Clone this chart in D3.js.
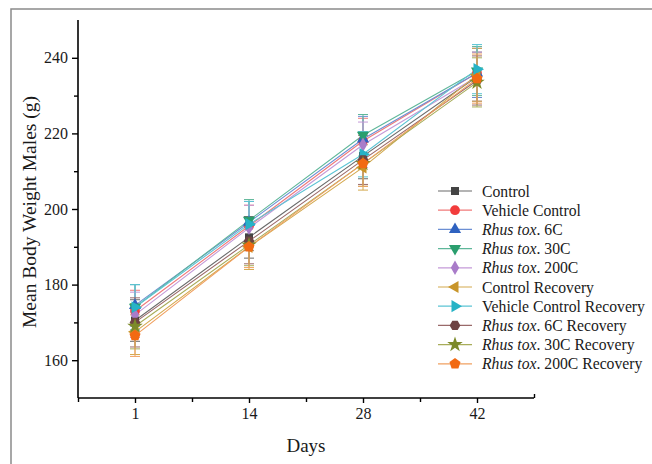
<!DOCTYPE html>
<html>
<head>
<meta charset="utf-8">
<script src="https://cdn.jsdelivr.net/npm/d3@7"></script>
<style>
  body { margin: 0; background: #fff; }
  text { font-family: "Liberation Serif", "Times New Roman", serif; fill: #1a1a1a; }
</style>
</head>
<body>
<div id="chart"></div>
<script>
const width = 652;
const height = 464;

// data
const days = ["1", "14", "28", "42"];
const seriesNames = [
  "Control", "Vehicle Control", "Rhus tox. 6C", "Rhus tox. 30C", "Rhus tox. 200C",
  "Control Recovery", "Vehicle Control Recovery", "Rhus tox. 6C Recovery",
  "Rhus tox. 30C Recovery", "Rhus tox. 200C Recovery"
];
const control = [170.5, 192.5, 214, 235];
const vehicleControl = [173, 195.5, 218, 236];
const rhus6C = [174.5, 196.5, 218.5, 236];
const rhus30C = [174, 197, 219.5, 236.5];
const rhus200C = [172, 195, 217, 235];
const controlRecovery = [167.5, 190, 211, 235.5];
const vehicleRecovery = [174, 196, 214.5, 237];
const rhus6CRecovery = [170, 191.5, 213, 234];
const rhus30CRecovery = [169, 190.5, 212, 233.5];
const rhus200CRecovery = [166.5, 190, 212, 234.5];
const errors = [
  [5.5, 5.5, 6, 6.5],
  [5.5, 5.5, 6, 6.5],
  [5.5, 5.5, 6, 6.5],
  [6, 5.5, 5.5, 6.5],
  [6, 6, 6, 6.5],
  [6, 6, 6, 7],
  [6, 6, 6, 6.5],
  [6.5, 6, 6.5, 6.5],
  [6, 5.5, 6, 6.5],
  [5.5, 5.5, 6, 6.5]
];
const yTicks = [160, 180, 200, 220, 240];

const allValues = [control, vehicleControl, rhus6C, rhus30C, rhus200C,
  controlRecovery, vehicleRecovery, rhus6CRecovery, rhus30CRecovery, rhus200CRecovery];

const lineColors = ["#6b6b6b", "#f07a7a", "#6c8fd4", "#5fb79a", "#c49ad8",
  "#d4a94f", "#5cc4d4", "#9a6a6a", "#a8ad5a", "#f0a060"];
const markColors = ["#444444", "#f23c3c", "#2f62c0", "#2a9e6e", "#a97cc9",
  "#c8952a", "#27b3c6", "#6e4343", "#7c8a2a", "#f26a12"];

// extra symbol shapes
const polygon = (n, rot) => ({
  draw(ctx, size) {
    const r = Math.sqrt(size / (n * 0.5 * Math.sin(2 * Math.PI / n)));
    for (let i = 0; i < n; i++) {
      const a = rot + i * 2 * Math.PI / n;
      const x = r * Math.sin(a), y = -r * Math.cos(a);
      if (i === 0) ctx.moveTo(x, y); else ctx.lineTo(x, y);
    }
    ctx.closePath();
  }
});
const symbols = [
  [d3.symbolSquare, 0], [d3.symbolCircle, 0], [d3.symbolTriangle, 0],
  [d3.symbolTriangle, 180], [d3.symbolDiamond, 0], [d3.symbolTriangle, -90],
  [d3.symbolTriangle, 90], [polygon(6, Math.PI / 6), 0], [d3.symbolStar, 0],
  [polygon(5, 0), 0]
];
const symSize = [64, 75, 64, 64, 60, 64, 64, 75, 75, 80];

const svg = d3.select("#chart").append("svg")
  .attr("width", width)
  .attr("height", height);

// outer frame
svg.append("rect")
  .attr("x", 11).attr("y", 9)
  .attr("width", 700).attr("height", 500)
  .attr("fill", "none").attr("stroke", "#8a8a8a").attr("stroke-width", 1.5);

const plotLeft = 78, plotRight = 534, plotTop = 20, plotBottom = 398;

const xScale = d3.scaleLinear().domain([0, 4]).range([plotLeft, plotRight]);
const yScale = d3.scaleLinear().domain([150, 250]).range([plotBottom, plotTop]);
const xPos = (i) => xScale(i + 0.5);

// y axis
const yAxis = svg.append("g").attr("transform", "translate(" + plotLeft + ",0)");
yAxis.call(d3.axisLeft(yScale).tickValues(d3.range(150, 251, 10))
  .tickSize(6).tickFormat((d) => yTicks.includes(d) ? d : ""));
yAxis.selectAll("line").filter((d) => !yTicks.includes(d)).attr("x2", -4);
yAxis.selectAll(".tick").filter((d) => d === 150 || d === 250).select("line").remove();
yAxis.select(".domain").attr("d", "M0," + plotTop + "V" + plotBottom).attr("stroke-width", 1.6);
yAxis.selectAll("line").attr("stroke-width", 1.4);
yAxis.selectAll("text").attr("font-size", 16).attr("x", -10)
  .style("font-family", "Liberation Serif, serif");

// x axis
const xAxis = svg.append("g").attr("transform", "translate(0," + plotBottom + ")");
xAxis.call(d3.axisBottom(xScale).tickValues([0, 0.5, 1, 1.5, 2, 2.5, 3, 3.5, 4])
  .tickSize(5).tickFormat((d) => d % 1 === 0.5 ? days[Math.floor(d)] : ""));
xAxis.selectAll(".tick").filter((d) => d % 1 === 0).select("line").attr("y2", 4);
xAxis.selectAll(".tick").filter((d) => d === 4).select("line").attr("y2", -4);
xAxis.select(".domain").attr("d", "M" + plotLeft + ",0H" + plotRight).attr("stroke-width", 1.6);
xAxis.selectAll("line").attr("stroke-width", 1.4);
xAxis.selectAll("text").attr("font-size", 16).attr("y", 10)
  .style("font-family", "Liberation Serif, serif");

// axis titles
svg.append("text")
  .attr("transform", "translate(36," + 212 + ") rotate(-90)")
  .attr("text-anchor", "middle")
  .attr("font-size", 19.5)
  .text("Mean Body Weight Males (g)");
svg.append("text")
  .attr("x", 306).attr("y", 452)
  .attr("text-anchor", "middle")
  .attr("font-size", 19)
  .text("Days");

const line = d3.line().x((d, i) => xPos(i)).y((d) => yScale(d));

// error bars
allValues.forEach((vals, s) => {
  const g = svg.append("g").attr("stroke", lineColors[s]).attr("stroke-width", 1);
  vals.forEach((v, i) => {
    const e = errors[s][i];
    const x = xPos(i);
    g.append("line").attr("x1", x).attr("x2", x)
      .attr("y1", yScale(v - e)).attr("y2", yScale(v + e));
    [v - e, v + e].forEach((c) => {
      g.append("line").attr("x1", x - 5).attr("x2", x + 5)
        .attr("y1", yScale(c)).attr("y2", yScale(c));
    });
  });
});

// lines
allValues.forEach((vals, s) => {
  svg.append("path")
    .datum(vals)
    .attr("d", line)
    .attr("fill", "none")
    .attr("stroke", lineColors[s])
    .attr("stroke-width", 1.1);
});

// markers
const sym = (s) => d3.symbol().type(symbols[s][0]).size(symSize[s]);
allValues.forEach((vals, s) => {
  svg.append("g").selectAll("path")
    .data(vals)
    .enter()
    .append("path")
    .attr("d", sym(s))
    .attr("transform", (d, i) => "translate(" + xPos(i) + "," + yScale(d) + ") rotate(" + symbols[s][1] + ")")
    .attr("fill", markColors[s]);
});

// legend
const legend = svg.append("g").attr("transform", "translate(438,191)");
seriesNames.forEach((name, s) => {
  const row = legend.append("g").attr("transform", "translate(0," + s * 19.2 + ")");
  row.append("line").attr("x1", 0).attr("x2", 34).attr("y1", 0).attr("y2", 0)
    .attr("stroke", lineColors[s]).attr("stroke-width", 1.2);
  row.append("path").attr("d", sym(s))
    .attr("transform", "translate(17,0) rotate(" + symbols[s][1] + ")")
    .attr("fill", markColors[s]);
  const t = row.append("text").attr("x", 44).attr("y", 5.5).attr("font-size", 15.7);
  if (name.startsWith("Rhus tox")) {
    t.append("tspan").attr("font-style", "italic").text("Rhus tox");
    t.append("tspan").text(name.slice(8));
  } else {
    t.text(name);
  }
});
</script>
</body>
</html>
